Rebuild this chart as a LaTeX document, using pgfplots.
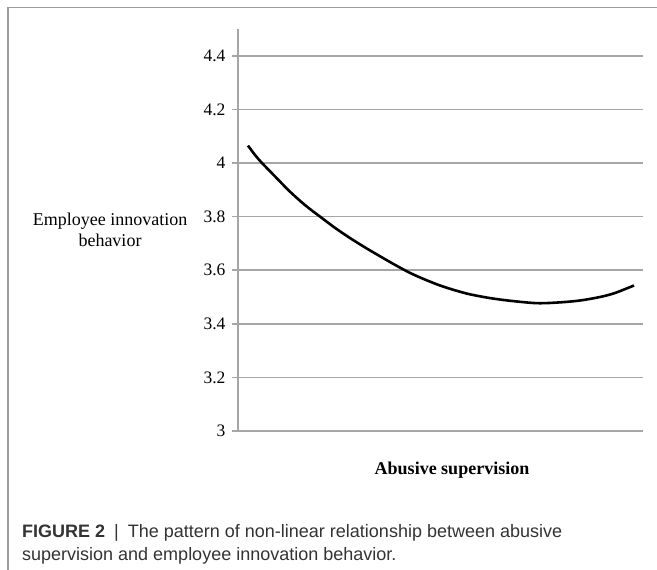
\documentclass[border=0pt]{standalone}
\usepackage{fontspec}
\setmainfont{Liberation Serif}
\newfontfamily\capfont{Liberation Sans}
\usepackage{pgfplots}
\pgfplotsset{compat=1.18}
\definecolor{gridgray}{HTML}{A6A6A6}
\definecolor{framegray}{HTML}{9C9C9C}
\definecolor{capgray}{HTML}{333333}

\begin{document}
\begin{tikzpicture}[x=1bp,y=1bp]
\path[use as bounding box] (0,0) rectangle (657,-570);
\draw[framegray, line width=1.3bp] (8,-570) -- (8,-7.5) -- (657,-7.5);
\begin{axis}[
  at={(238bp,-431bp)}, anchor=south west,
  scale only axis, width=405bp, height=402bp,
  xmin=0, xmax=405, ymin=3, ymax=4.5,
  xtick=\empty,
  ytick={3,3.2,3.4,3.6,3.8,4,4.2,4.4},
  ymajorgrids, grid style={gridgray, line width=1.5bp},
  axis x line*=bottom, axis y line*=left,
  axis line style={gridgray, line width=1.5bp, -},
  tick align=outside, major tick length=6bp,
  ytick style={gridgray, line width=1.5bp},
  yticklabel style={font=\fontsize{17.5bp}{20bp}\selectfont, black, xshift=-3bp},
  /pgf/number format/assume math mode=true,
  clip=false,
]
\addplot[black, line width=2.6bp, smooth] coordinates {
(10,4.065) (17,4.03) (24,4.0) (37,3.95) (52,3.893) (67,3.843) (82,3.80)
(97,3.758) (112,3.72) (127,3.685) (142,3.652) (157,3.62) (172,3.59)
(187,3.565) (202,3.543) (217,3.525) (232,3.510) (252,3.496) (272,3.486)
(299,3.477) (322,3.480) (342,3.487) (362,3.500) (377,3.515) (396,3.543)
};
\end{axis}
\node[align=center, font=\fontsize{18bp}{21bp}\selectfont] at (110,-230) {Employee innovation\\behavior};
\node[font=\fontsize{18bp}{21bp}\selectfont\bfseries] at (452,-470) {Abusive supervision};
\node[anchor=base west, inner sep=0pt, text=capgray, font=\capfont\fontsize{18bp}{22bp}\selectfont] at (22,-537) {\textbf{FIGURE 2}\enspace|\enspace The pattern of non-linear relationship between abusive};
\node[anchor=base west, inner sep=0pt, text=capgray, font=\capfont\fontsize{18bp}{22bp}\selectfont] at (22,-560) {supervision and employee innovation behavior.};
\end{tikzpicture}
\end{document}
